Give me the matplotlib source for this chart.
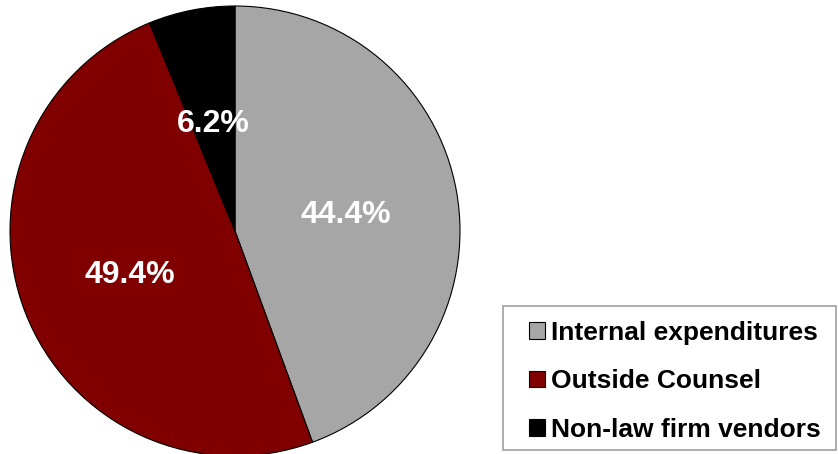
import matplotlib.pyplot as plt
from matplotlib.patches import Rectangle

labels = ['Internal expenditures', 'Outside Counsel', 'Non-law firm vendors']
shares = [44.4, 49.4, 6.2]
colors = ['#A6A6A6', '#800000', '#000000']

plt.rcParams['font.family'] = ['Liberation Sans', 'DejaVu Sans']

fig = plt.figure(figsize=(8.38, 4.54), dpi=100)
# pie centre at (235, 231) px, radius 225 px
cx, cy, r = 235, 231, 225
ax = fig.add_axes([(cx - r) / 838, (454 - cy - r) / 454, 2 * r / 838, 2 * r / 454])

wedges, texts, autotexts = ax.pie(shares, colors=colors, startangle=90, counterclock=False,
                                  autopct='%.1f%%', pctdistance=0.5, radius=1,
                                  wedgeprops=dict(edgecolor='black', linewidth=0.8))
for t in autotexts:
    t.set_color('white')
    t.set_fontsize(23)
    t.set_fontweight('bold')
    t.set_va('center_baseline')
ax.set_xlim(-1, 1)
ax.set_ylim(-1, 1)
ax.set_aspect('equal')
ax.axis('off')

# legend without its own frame, box drawn separately
leg = fig.legend(wedges, labels, loc='upper left', bbox_to_anchor=(529 / 838, (454 - 321) / 454),
                 prop={'weight': 'bold', 'size': 19}, frameon=False,
                 handlelength=0.6, handleheight=0.6, handletextpad=0.25,
                 labelspacing=0.92, borderpad=0, borderaxespad=0)
fig.patches.append(Rectangle((503 / 838, 4 / 454), 333 / 838, 144 / 454, transform=fig.transFigure,
                             fill=False, edgecolor='#A0A0A0', linewidth=1.2))

fig.savefig('out.png', dpi=100)
